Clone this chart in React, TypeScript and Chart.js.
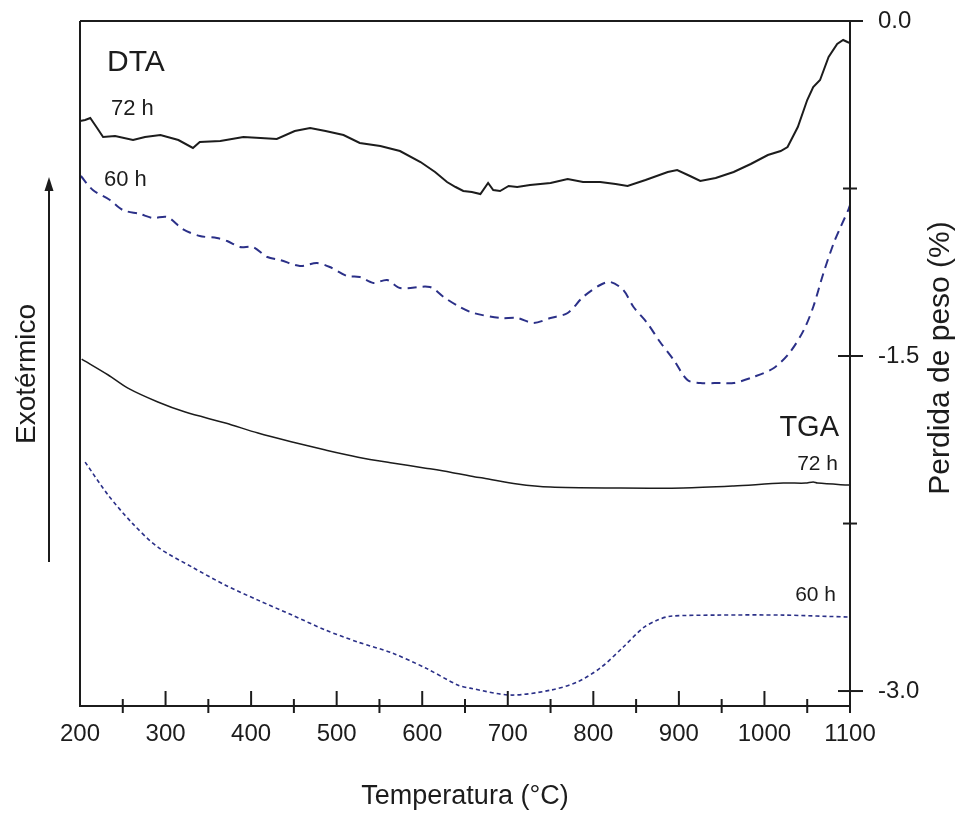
import { useEffect, useRef } from "react";
import { Chart, registerables } from "chart.js";
Chart.register(...registerables);

// DTA signal (arbitrary units) vs temperature (°C)
const dta72T = [200, 206, 212, 220, 227, 241, 262, 276, 294, 315, 332, 340, 364, 391, 411, 430, 451, 469, 487, 508, 527, 551, 574, 598, 615, 629, 639, 648, 658, 668, 677, 683, 691, 701, 711, 726, 750, 770, 788, 808, 826, 840, 861, 887, 898, 913, 925, 943, 964, 984, 1004, 1019, 1027, 1039, 1050, 1057, 1065, 1075, 1085, 1092, 1097, 1100];
const dta72 = [58.5, 58.6, 58.8, 57.8, 56.9, 57.0, 56.6, 56.9, 57.1, 56.6, 55.8, 56.4, 56.5, 56.9, 56.8, 56.7, 57.5, 57.8, 57.5, 57.1, 56.3, 56.0, 55.5, 54.4, 53.4, 52.4, 51.9, 51.5, 51.4, 51.2, 52.3, 51.6, 51.5, 52.0, 51.9, 52.1, 52.3, 52.7, 52.4, 52.4, 52.2, 52.0, 52.6, 53.4, 53.6, 53.0, 52.5, 52.8, 53.4, 54.2, 55.1, 55.5, 55.9, 57.9, 60.6, 61.9, 62.6, 64.9, 66.2, 66.6, 66.4, 66.3];

const dta60T = [201, 215, 235, 250, 270, 285, 302, 320, 340, 360, 372, 387, 402, 419, 434, 457, 477, 492, 512, 527, 543, 559, 574, 609, 625, 644, 660, 691, 711, 730, 750, 770, 788, 808, 820, 835, 847, 863, 878, 894, 910, 925, 949, 964, 987, 1011, 1030, 1046, 1057, 1069, 1081, 1089, 1098, 1100];
const dta60 = [53.0, 51.6, 50.6, 49.6, 49.2, 48.8, 48.9, 47.7, 47.0, 46.8, 46.5, 45.9, 45.9, 44.9, 44.6, 44.0, 44.3, 43.9, 43.0, 42.9, 42.3, 42.6, 41.8, 41.9, 40.9, 39.9, 39.3, 38.8, 38.8, 38.3, 38.8, 39.3, 40.9, 42.1, 42.4, 41.6, 39.9, 38.3, 36.4, 34.6, 32.6, 32.3, 32.3, 32.3, 32.9, 33.8, 35.4, 37.6, 39.9, 43.3, 46.3, 47.9, 49.6, 50.1];

// TGA weight loss (%) vs temperature (°C)
const tga72T = [202, 233, 256, 291, 323, 370, 408, 448, 487, 525, 565, 604, 633, 662, 671, 711, 750, 828, 905, 964, 1022, 1048, 1057, 1062, 1098, 1100];
const tga72 = [-1.514, -1.585, -1.644, -1.706, -1.751, -1.8, -1.845, -1.885, -1.921, -1.953, -1.979, -2.002, -2.02, -2.042, -2.046, -2.073, -2.087, -2.091, -2.091, -2.082, -2.069, -2.069, -2.064, -2.069, -2.078, -2.078];

const tga60T = [206, 233, 261, 291, 331, 370, 408, 448, 487, 525, 565, 604, 642, 656, 703, 750, 781, 808, 835, 858, 875, 890, 945, 1022, 1100];
const tga60 = [-1.975, -2.123, -2.248, -2.356, -2.445, -2.526, -2.593, -2.66, -2.727, -2.781, -2.83, -2.897, -2.974, -2.987, -3.018, -2.996, -2.96, -2.897, -2.803, -2.718, -2.682, -2.665, -2.66, -2.66, -2.669];

const xTickValues = [200, 250, 300, 350, 400, 450, 500, 550, 600, 650, 700, 750, 800, 850, 900, 950, 1000, 1050, 1100];
const xTickLabels = ["200", "", "300", "", "400", "", "500", "", "600", "", "700", "", "800", "", "900", "", "1000", "", "1100"];
const yTickValues = [0, -0.75, -1.5, -2.25, -3.0];
const yTickLabels = ["0.0", "", "-1.5", "", "-3.0"];

const FONT = "'Liberation Sans', Arial, Helvetica, sans-serif";
const INK = "#1c1c1c";
const NAVY = "#2b3088";

const pts = (xs: number[], ys: number[]) => xs.map((x, i) => ({ x, y: ys[i] }));

const framePlugin = {
  id: "frame",
  afterDatasetsDraw(chart: any) {
    const { ctx, chartArea: a, scales } = chart;
    const xs = scales.x;
    const ys = scales.y;
    ctx.save();
    ctx.strokeStyle = INK;
    ctx.lineWidth = 2;
    ctx.lineCap = "butt";
    const line = (x1: number, y1: number, x2: number, y2: number) => {
      ctx.beginPath();
      ctx.moveTo(x1, y1);
      ctx.lineTo(x2, y2);
      ctx.stroke();
    };
    // frame
    line(a.left, a.top, a.left, a.bottom + 1);
    line(a.left - 1, a.bottom, a.right, a.bottom);
    line(a.left, a.top, a.right + 13, a.top);
    line(a.right, a.top, a.right, a.bottom + 7);
    // x ticks
    xTickValues.forEach((v, i) => {
      if (v === xs.min || v === xs.max) return;
      const px = xs.getPixelForValue(v);
      if (xTickLabels[i]) line(px, a.bottom - 15, px, a.bottom);
      else line(px, a.bottom - 7, px, a.bottom + 7);
    });
    // y ticks
    yTickValues.forEach((v, i) => {
      const py = ys.getPixelForValue(v);
      if (yTickLabels[i]) line(a.right - 12, py, a.right + 13, py);
      else line(a.right - 7, py, a.right + 7, py);
    });
    // arrow
    ctx.lineWidth = 2;
    line(49, 562, 49, 188);
    ctx.fillStyle = INK;
    ctx.beginPath();
    ctx.moveTo(49, 177);
    ctx.lineTo(44.5, 191);
    ctx.lineTo(53.5, 191);
    ctx.closePath();
    ctx.fill();

    // annotations
    ctx.fillStyle = INK;
    ctx.textBaseline = "alphabetic";
    ctx.textAlign = "left";
    ctx.font = `30px ${FONT}`;
    ctx.fillText("DTA", 107, 71);
    ctx.font = `22px ${FONT}`;
    ctx.fillText("72 h", 111, 115);
    ctx.fillText("60 h", 104, 186);
    ctx.textAlign = "right";
    ctx.font = `29px ${FONT}`;
    ctx.fillText("TGA", 839, 436);
    ctx.font = `21px ${FONT}`;
    ctx.fillText("72 h", 838, 470);
    ctx.fillText("60 h", 836, 601);

    // rotated titles
    ctx.textAlign = "center";
    ctx.save();
    ctx.translate(35, 374);
    ctx.rotate(-Math.PI / 2);
    ctx.font = `28px ${FONT}`;
    ctx.fillText("Exotérmico", 0, 0);
    ctx.restore();

    ctx.save();
    ctx.translate(949, 358);
    ctx.rotate(-Math.PI / 2);
    ctx.font = `30px ${FONT}`;
    ctx.fillText("Perdida de peso (%)", 0, 0);
    ctx.restore();

    ctx.restore();
  },
};

export default function App() {
  const ref = useRef<HTMLCanvasElement | null>(null);
  useEffect(() => {
    if (!ref.current) return;
    Chart.defaults.font.family = FONT;
    Chart.defaults.color = INK;
    const chart = new Chart(ref.current, {
      type: "line",
      data: {
        datasets: [
          {
            label: "DTA 72 h",
            data: pts(dta72T, dta72),
            yAxisID: "yd",
            borderColor: INK,
            borderWidth: 2,
            pointRadius: 0,
            tension: 0,
          },
          {
            label: "DTA 60 h",
            data: pts(dta60T, dta60),
            yAxisID: "yd",
            borderColor: NAVY,
            borderWidth: 2,
            borderDash: [9, 6],
            pointRadius: 0,
            tension: 0.3,
          },
          {
            label: "TGA 72 h",
            data: pts(tga72T, tga72),
            yAxisID: "y",
            borderColor: INK,
            borderWidth: 1.5,
            pointRadius: 0,
            tension: 0.3,
          },
          {
            label: "TGA 60 h",
            data: pts(tga60T, tga60),
            yAxisID: "y",
            borderColor: NAVY,
            borderWidth: 1.6,
            borderDash: [4, 3],
            pointRadius: 0,
            tension: 0.3,
          },
        ],
      },
      options: {
        animation: false,
        responsive: false,
        devicePixelRatio: 1,
        layout: { autoPadding: false, padding: { left: 80, top: 21, right: 0, bottom: 0 } },
        plugins: { legend: { display: false }, tooltip: { enabled: false } },
        scales: {
          x: {
            type: "linear",
            position: "bottom",
            min: 200,
            max: 1100,
            afterBuildTicks: (s: any) => {
              s.ticks = xTickValues.map((v) => ({ value: v }));
            },
            afterFit: (s: any) => {
              s.height = 109;
              s.paddingLeft = 0;
              s.paddingRight = 0;
            },
            ticks: {
              autoSkip: false,
              maxRotation: 0,
              padding: 14,
              font: { size: 24 },
              color: INK,
              callback: (v: any) => {
                const i = xTickValues.indexOf(Number(v));
                return i >= 0 ? xTickLabels[i] : "";
              },
            },
            grid: { display: false, drawTicks: false },
            border: { display: false },
            title: {
              display: true,
              text: "Temperatura (°C)",
              font: { size: 27 },
              color: INK,
              padding: { top: 0, bottom: 2 },
            },
          },
          y: {
            type: "linear",
            position: "right",
            min: -3.067,
            max: 0,
            afterBuildTicks: (s: any) => {
              s.ticks = yTickValues.map((v) => ({ value: v }));
            },
            afterFit: (s: any) => {
              s.width = 110;
              s.paddingTop = 0;
              s.paddingBottom = 0;
            },
            ticks: {
              autoSkip: false,
              padding: 28,
              font: { size: 24 },
              color: INK,
              callback: (v: any) => {
                const i = yTickValues.indexOf(Number(v));
                return i >= 0 ? yTickLabels[i] : "";
              },
            },
            grid: { display: false, drawTicks: false },
            border: { display: false },
          },
          yd: {
            type: "linear",
            display: false,
            min: 0,
            max: 68.5,
          },
        },
      },
      plugins: [framePlugin],
    } as any);
    return () => chart.destroy();
  }, []);
  return (
    <div style={{ position: "absolute", left: 0, top: 0, width: 960, height: 815, background: "#fff" }}>
      <canvas ref={ref} width={960} height={815} style={{ display: "block", width: 960, height: 815 }} />
    </div>
  );
}
